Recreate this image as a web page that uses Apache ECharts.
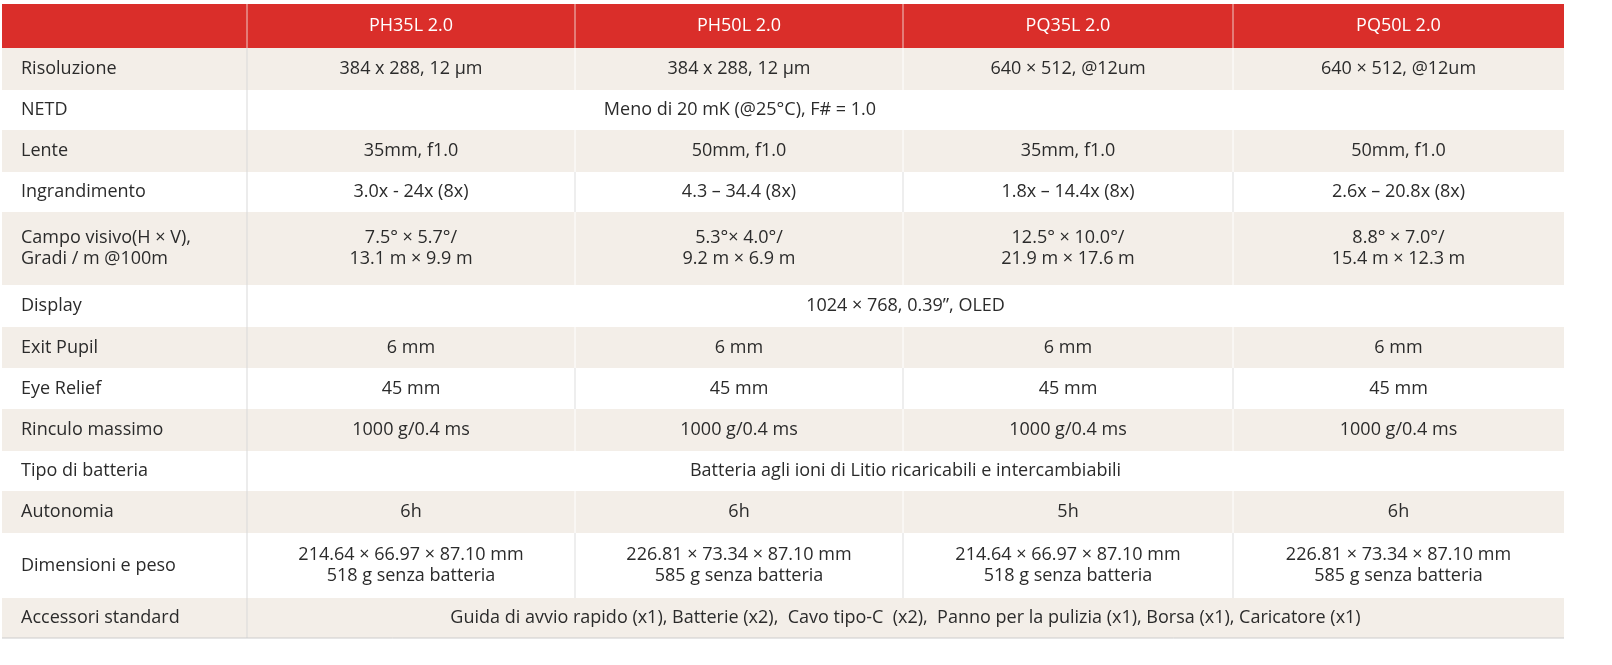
<!DOCTYPE html>
<html><head><meta charset="utf-8">
<script src="https://cdn.jsdelivr.net/npm/echarts@6/dist/echarts.min.js"></script>
<style>html,body{margin:0;padding:0;background:#fff}#main{width:1612px;height:665px}</style>
</head><body><div id="main"></div>
<script>
var models = ['PH35L 2.0', 'PH50L 2.0', 'PQ35L 2.0', 'PQ50L 2.0'];
var labels = ['Risoluzione', 'NETD', 'Lente', 'Ingrandimento', 'Campo visivo(H × V),\nGradi / m @100m', 'Display', 'Exit Pupil', 'Eye Relief', 'Rinculo massimo', 'Tipo di batteria', 'Autonomia', 'Dimensioni e peso', 'Accessori standard'];
// one entry per row: either 4 values or a single spanning value
var values = [
  ['384 x 288, 12 µm', '384 x 288, 12 µm', '640 × 512, @12um', '640 × 512, @12um'],
  ['Meno di 20 mK (@25°C), F# = 1.0'],
  ['35mm, f1.0', '50mm, f1.0', '35mm, f1.0', '50mm, f1.0'],
  ['3.0x - 24x (8x)', '4.3 – 34.4 (8x)', '1.8x – 14.4x (8x)', '2.6x – 20.8x (8x)'],
  ['7.5° × 5.7°/\n13.1 m × 9.9 m', '5.3°× 4.0°/\n9.2 m × 6.9 m', '12.5° × 10.0°/\n21.9 m × 17.6 m', '8.8° × 7.0°/\n15.4 m × 12.3 m'],
  ['1024 × 768, 0.39”, OLED'],
  ['6 mm', '6 mm', '6 mm', '6 mm'],
  ['45 mm', '45 mm', '45 mm', '45 mm'],
  ['1000 g/0.4 ms', '1000 g/0.4 ms', '1000 g/0.4 ms', '1000 g/0.4 ms'],
  ['Batteria agli ioni di Litio ricaricabili e intercambiabili'],
  ['6h', '6h', '5h', '6h'],
  ['214.64 × 66.97 × 87.10 mm\n518 g senza batteria', '226.81 × 73.34 × 87.10 mm\n585 g senza batteria', '214.64 × 66.97 × 87.10 mm\n518 g senza batteria', '226.81 × 73.34 × 87.10 mm\n585 g senza batteria'],
  ['Guida di avvio rapido (x1), Batterie (x2),  Cavo tipo-C  (x2),  Panno per la pulizia (x1), Borsa (x1), Caricatore (x1)']
];
// layout
var colX = [2, 247, 575, 903, 1233, 1564];
var rowY = [4, 48, 90, 130, 172, 212, 285, 327, 368, 409, 451, 491, 533, 598, 638];
var spanEnd = {1: 1233};

var font = '"Open Sans", sans-serif';
var fs = '18px ';
var g = [];
var R = rowY.length - 1;
for (var r = 0; r < R; r++) {
  var y0 = rowY[r], h = rowY[r + 1] - y0;
  var fill = r === 0 ? '#da2e2a' : (r % 2 === 1 ? '#f3eee8' : '#ffffff');
  g.push({type: 'rect', shape: {x: colX[0], y: y0, width: colX[5] - colX[0], height: h}, style: {fill: fill}});
  if (r === 0) {
    for (var c = 0; c < 4; c++) {
      g.push({type: 'text', x: (colX[c + 1] + colX[c + 2]) / 2, y: y0 + h / 2,
        style: {text: models[c], fill: '#fff', font: fs + font, align: 'center', verticalAlign: 'middle'}});
    }
    for (var c = 1; c < 5; c++) g.push({type: 'line', shape: {x1: colX[c], y1: y0, x2: colX[c], y2: y0 + h}, style: {stroke: '#eec9c5', lineWidth: 1}});
    continue;
  }
  var i = r - 1;
  g.push({type: 'text', x: 21, y: y0 + h / 2,
    style: {text: labels[i], fill: '#2b2b2b', font: fs + font, align: 'left', verticalAlign: 'middle', lineHeight: 21}});
  var vals = values[i];
  var line = r % 2 === 1 ? '#ffffff' : '#dddddd';
  g.push({type: 'line', shape: {x1: colX[1], y1: y0, x2: colX[1], y2: y0 + h}, style: {stroke: '#d9d9d9', lineWidth: 1}});
  if (vals.length === 1) {
    var xe = spanEnd[i] || colX[5];
    g.push({type: 'text', x: (colX[1] + xe) / 2, y: y0 + h / 2,
      style: {text: vals[0], fill: '#2b2b2b', font: fs + font, align: 'center', verticalAlign: 'middle'}});
  } else {
    for (var c = 0; c < 4; c++) {
      g.push({type: 'text', x: (colX[c + 1] + colX[c + 2]) / 2, y: y0 + h / 2,
        style: {text: vals[c], fill: '#2b2b2b', font: fs + font, align: 'center', verticalAlign: 'middle', lineHeight: 21}});
      if (c > 0) g.push({type: 'line', shape: {x1: colX[c + 1], y1: y0, x2: colX[c + 1], y2: y0 + h}, style: {stroke: line, lineWidth: 1}});
    }
  }
}
g.push({type: 'line', shape: {x1: colX[0], y1: rowY[R], x2: colX[5], y2: rowY[R]}, style: {stroke: '#cccccc', lineWidth: 1}});

var myChart = echarts.init(document.getElementById('main'));
myChart.setOption({animation: false, graphic: g});
window.onresize = myChart.resize;
</script></body></html>
